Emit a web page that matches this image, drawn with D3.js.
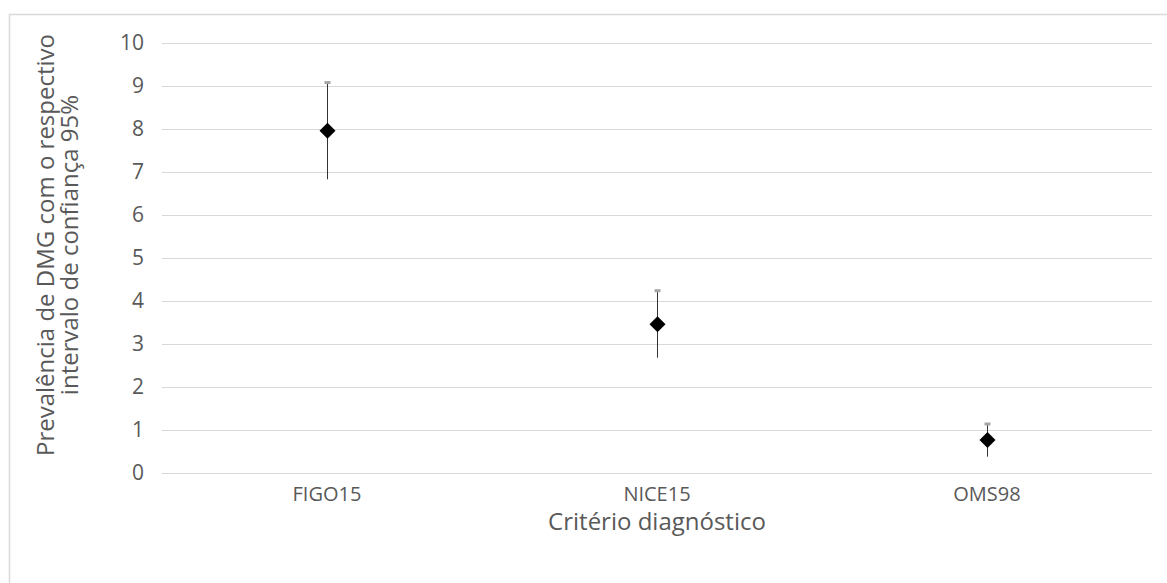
<!DOCTYPE html>
<html>
<head>
<meta charset="utf-8">
<script src="https://cdn.jsdelivr.net/npm/d3@7"></script>
<style>
  body { margin: 0; background: #fff; }
  text { font-family: "Open Sans", sans-serif; fill: #595959; }
</style>
</head>
<body>
<div id="chart"></div>
<script>
// data
const criteria = ["FIGO15", "NICE15", "OMS98"];
const prevalence = [7.96, 3.46, 0.77];
const upper = [9.08, 4.24, 1.14];
const lower = [6.83, 2.68, 0.38];
const yTicks = [0, 1, 2, 3, 4, 5, 6, 7, 8, 9, 10];

const width = 1167;
const height = 583;
const margin = { top: 43, right: 15, bottom: 110, left: 162 };

const svg = d3.select("#chart")
  .append("svg")
  .attr("width", width)
  .attr("height", height);

// outer chart frame
svg.append("rect")
  .attr("x", 9.5).attr("y", 14.5)
  .attr("width", width).attr("height", height)
  .attr("fill", "none")
  .attr("stroke", "#d9d9d9")
  .attr("stroke-width", 1.5);

const x = d3.scaleBand()
  .domain(criteria)
  .range([margin.left, width - margin.right]);

const y = d3.scaleLinear()
  .domain([0, 10])
  .range([height - margin.bottom, margin.top]);

// gridlines
svg.append("g")
  .selectAll("line")
  .data(yTicks)
  .enter()
  .append("line")
  .attr("x1", margin.left)
  .attr("x2", width - margin.right)
  .attr("y1", d => Math.round(y(d)) + 0.5)
  .attr("y2", d => Math.round(y(d)) + 0.5)
  .attr("stroke", "#d9d9d9")
  .attr("stroke-width", 1);

// y tick labels
svg.append("g")
  .selectAll("text")
  .data(yTicks)
  .enter()
  .append("text")
  .attr("x", 144)
  .attr("y", d => y(d))
  .attr("dy", "0.35em")
  .attr("text-anchor", "end")
  .style("font-size", "21px")
  .text(d => d);

// x tick labels
svg.append("g")
  .selectAll("text")
  .data(criteria)
  .enter()
  .append("text")
  .attr("x", d => x(d) + x.bandwidth() / 2)
  .attr("y", 494)
  .attr("dy", "0.35em")
  .attr("text-anchor", "middle")
  .style("font-size", "20px")
  .text(d => d);

const points = criteria.map((c, i) => ({ c, v: prevalence[i], hi: upper[i], lo: lower[i] }));
const cx = d => Math.round(x(d.c) + x.bandwidth() / 2) + 0.5;

// error bars
svg.append("g")
  .selectAll("line")
  .data(points)
  .enter()
  .append("line")
  .attr("x1", cx).attr("x2", cx)
  .attr("y1", d => y(d.hi))
  .attr("y2", d => y(d.lo))
  .attr("stroke", "#333")
  .attr("stroke-width", 1);

// upper caps
svg.append("g")
  .selectAll("line")
  .data(points)
  .enter()
  .append("line")
  .attr("x1", d => cx(d) - 3).attr("x2", d => cx(d) + 3)
  .attr("y1", d => y(d.hi))
  .attr("y2", d => y(d.hi))
  .attr("stroke", "#a6a6a6")
  .attr("stroke-width", 3);

// diamond markers
svg.append("g")
  .selectAll("path")
  .data(points)
  .enter()
  .append("path")
  .attr("transform", d => `translate(${cx(d)},${y(d.v)})`)
  .attr("d", "M0,-8L8,0L0,8L-8,0Z")
  .attr("fill", "#000");

// axis titles
svg.append("text")
  .attr("x", 657)
  .attr("y", 522)
  .attr("dy", "0.35em")
  .attr("text-anchor", "middle")
  .style("font-size", "24px")
  .text("Critério diagnóstico");

const yTitle = svg.append("text")
  .attr("transform", "translate(0,245) rotate(-90)")
  .attr("text-anchor", "middle")
  .style("font-size", "24px");
yTitle.append("tspan").attr("x", 0).attr("y", 54).text("Prevalência de DMG com o respectivo");
yTitle.append("tspan").attr("x", 0).attr("y", 78).text("intervalo de confiança 95%");
</script>
</body>
</html>
